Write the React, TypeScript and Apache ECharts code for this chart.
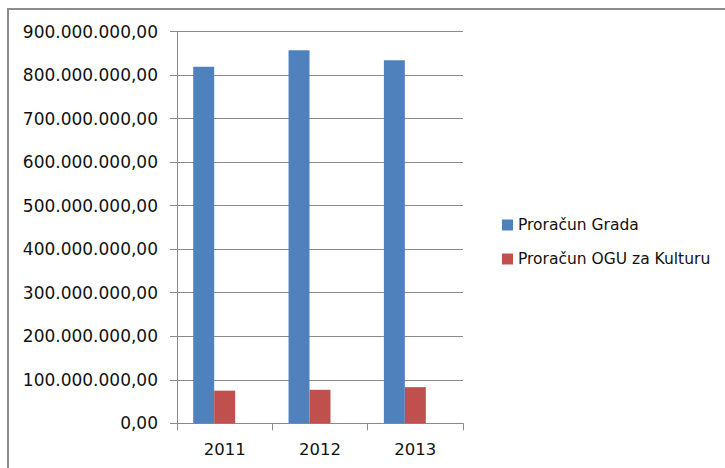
import React, { useEffect, useRef } from "react";
import * as echarts from "echarts";

const categories = ["2011", "2012", "2013"];
const seriesNames = ["Proračun Grada", "Proračun OGU za Kulturu"];
const gradValues = [819000000, 857000000, 834000000];
const kulturaValues = [75000000, 77000000, 83000000];
const emptyValues = [null, null, null];

function formatHr(v: number): string {
  const s = Math.round(v).toString();
  const withDots = s.replace(/\B(?=(\d{3})+(?!\d))/g, ".");
  return withDots + ",00";
}

export default function App() {
  const ref = useRef<HTMLDivElement>(null);
  useEffect(() => {
    document.body.style.margin = "0";
    const chart = echarts.init(ref.current!, null, { renderer: "svg" });
    const font = "DejaVu Sans";
    chart.setOption({
      animation: false,
      backgroundColor: "#ffffff",
      graphic: [
        {
          type: "rect",
          shape: { x: 8, y: 9, width: 900, height: 700 },
          style: { fill: "none", stroke: "#8c8c8c", lineWidth: 2 },
          silent: true,
        },
      ],
      grid: { left: 177, top: 31.5, right: 262, bottom: 44.7 },
      legend: {
        orient: "vertical",
        left: 497,
        top: 212,
        itemWidth: 11,
        itemHeight: 11,
        itemGap: 18,
        icon: "rect",
        data: seriesNames,
        textStyle: { fontFamily: font, fontSize: 15.5, color: "#111111", lineHeight: 16 },
      },
      xAxis: {
        type: "category",
        data: categories,
        axisLine: { lineStyle: { color: "#8a8a8a", width: 1 } },
        axisTick: { show: true, length: 7, lineStyle: { color: "#8a8a8a" } },
        axisLabel: { fontFamily: font, fontSize: 16.5, color: "#111111", margin: 18 },
      },
      yAxis: {
        type: "value",
        min: 0,
        max: 900000000,
        interval: 100000000,
        axisLine: { show: true, lineStyle: { color: "#8a8a8a", width: 1 } },
        axisTick: { show: true, length: 7, lineStyle: { color: "#8a8a8a" } },
        splitLine: { lineStyle: { color: "#8a8a8a", width: 1 } },
        axisLabel: {
          fontFamily: font,
          fontSize: 17,
          color: "#111111",
          margin: 19,
          formatter: (v: number) => formatHr(v),
        },
      },
      series: [
        {
          name: seriesNames[0],
          type: "bar",
          data: gradValues,
          itemStyle: { color: "#4F81BD" },
          barGap: "0%",
          barCategoryGap: "34%",
        },
        {
          name: seriesNames[1],
          type: "bar",
          data: kulturaValues,
          itemStyle: { color: "#C0504D" },
          barGap: "0%",
          barCategoryGap: "34%",
        },
        {
          name: "",
          type: "bar",
          data: emptyValues,
          itemStyle: { color: "#9BBB59" },
          barGap: "0%",
          barCategoryGap: "34%",
        },
      ],
    });
    return () => chart.dispose();
  }, []);
  return <div ref={ref} style={{ width: 725, height: 468 }} />;
}
